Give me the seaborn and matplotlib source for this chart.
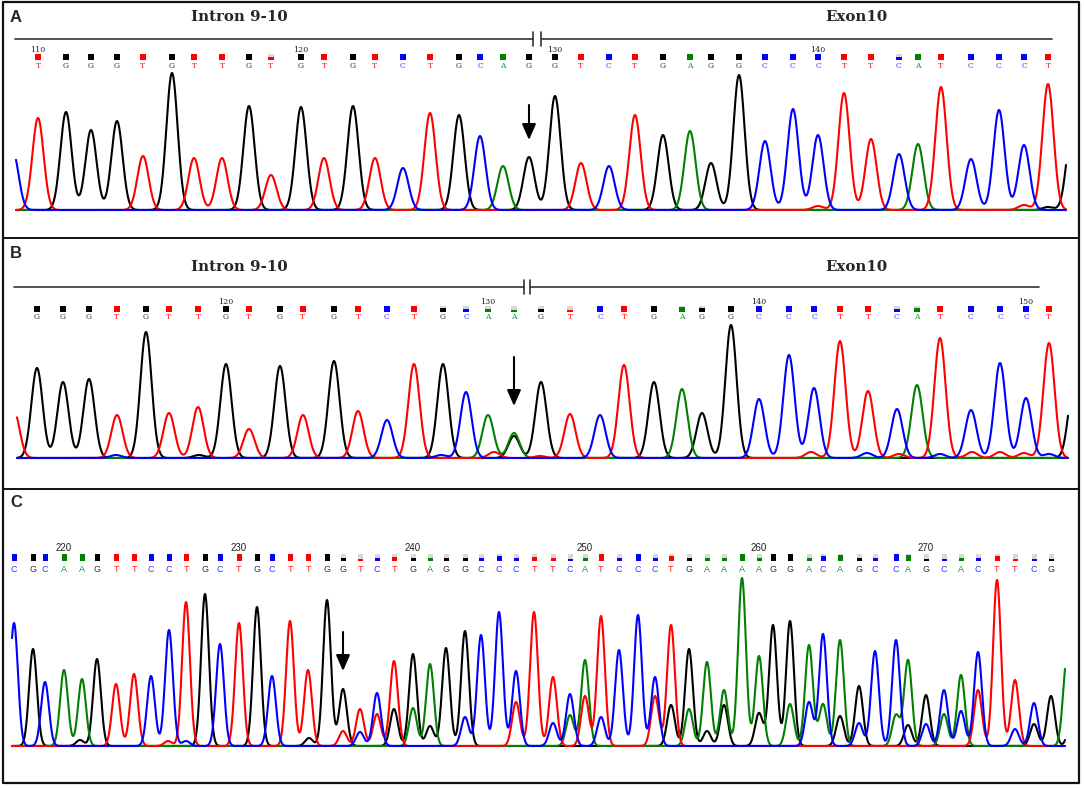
import numpy as np
import pandas as pd
import matplotlib
matplotlib.use("Agg")
import matplotlib.pyplot as plt
import seaborn as sns

# --------------------------------------------
# Sanger traces: panel A, B, C
# --------------------------------------------

# Panel A
seq_a = list("TGGGTGTTGTGTGTCTGCAGGTCTGAGGCCCTTCATCCCT")
scan_a = [38, 66, 91, 117, 143, 172, 194, 222, 249, 271, 301, 324, 353, 375, 403, 430, 459, 480, 503, 529,
          555, 581, 609, 635, 663, 690, 711, 739, 765, 793, 818, 844, 871, 899, 918, 941, 971, 999, 1024, 1048]
height_a = [92, 98, 80, 89, 54, 137, 52, 52, 104, 35, 103, 52, 104, 52, 42, 97, 95, 74, 44, 53,
            114, 47, 44, 95, 75, 79, 47, 135, 69, 101, 75, 117, 71, 56, 66, 123, 51, 100, 65, 126]
qual_a = [1] * 9 + [0.55] + [1] * 23 + [0.5] + [1] * 6
tick_idx_a = [0, 10, 20, 30]
tick_lab_a = ["110", "120", "130", "140"]
extra_scan_a = [13, 1072, 818, 1024, 1048]
extra_base_a = ["C", "G", "T", "T", "G"]
extra_height_a = [58, 80, 4, 5, 3]
arrow_idx_a = 19

# Panel B
seq_b = list("GGGTGTTGTGTGTCTGCAAGTCTGAGGCCCTTCATCCCT")
scan_b = [37, 63, 89, 117, 146, 169, 198, 226, 249, 280, 303, 334, 358, 387, 414, 443, 466, 488, 514, 541,
          570, 600, 624, 654, 682, 702, 731, 759, 789, 814, 840, 868, 897, 917, 940, 971, 1000, 1026, 1049]
height_b = [90, 76, 79, 43, 126, 45, 51, 94, 29, 92, 43, 97, 47, 38, 94, 94, 66, 43, 25, 76,
            44, 43, 93, 76, 69, 45, 133, 59, 103, 70, 117, 67, 49, 73, 120, 48, 95, 60, 115]
qual_b = [1] * 15 + [0.6, 0.5, 0.5, 0.3, 0.5, 0.3] + [1] * 3 + [0.8, 0.6] + [1] * 6 + [0.5, 0.7] + [1] * 5
tick_idx_b = [7, 17, 27, 37]
tick_lab_b = ["120", "130", "140", "150"]
extra_scan_b = [14, 1074, 514, 494, 199, 116, 441, 540, 811, 867, 899, 972, 1000, 1024, 940, 1049]
extra_base_b = ["T", "G", "G", "T", "G", "C", "C", "T", "T", "C", "T", "T", "T", "T", "C", "C"]
extra_height_b = [47, 75, 22, 6, 3, 3, 3, 2, 6, 5, 4, 6, 6, 5, 4, 4]
arrow_idx_b = 18

# Panel C
seq_c = list("CGCAAGTTCCTGCTGCTTGGTCTGAGGCCCTTCATCCCTGAAAAGGACAGCCAGCACTTCG")
scan_c = [14, 33, 45, 64, 82, 97, 116, 134, 151, 169, 186, 205, 220, 239, 257, 272, 290, 308, 327, 343,
          360, 377, 394, 413, 430, 446, 465, 481, 499, 516, 534, 553, 570, 585, 601, 619, 638, 655, 671, 689,
          707, 724, 742, 759, 773, 790, 809, 823, 840, 859, 875, 896, 908, 926, 944, 961, 978, 997, 1015, 1034,
          1051]
height_c = [123, 97, 64, 76, 67, 87, 62, 72, 70, 116, 144, 152, 102, 123, 139, 70, 125, 76, 146, 57,
            37, 53, 85, 92, 82, 98, 115, 111, 134, 75, 134, 69, 52, 86, 130, 96, 131, 69, 121, 97,
            84, 56, 168, 90, 121, 125, 101, 112, 106, 60, 95, 106, 86, 51, 56, 71, 94, 166, 66, 43,
            50]
qual_c = [1] * 19 + [0.35, 0.15, 0.3, 0.45, 0.35, 0.35, 0.35, 0.35, 0.35, 0.6, 0.3,
                     0.5, 0.3, 0.15, 0.35, 1, 0.35, 1, 0.35, 0.7, 0.35,
                     0.35, 0.35, 1, 0.35, 1, 1, 0.35, 0.7, 0.8, 0.35,
                     0.4, 1, 0.8, 0.15, 0.15, 0.35, 0.35, 0.6, 0.2, 0.15, 0.15]
tick_idx_c = [3, 13, 23, 33, 43, 53]
tick_lab_c = ["220", "230", "240", "250", "260", "270"]
extra_scan_c = [343, 360, 377, 394, 413, 430, 465, 516, 553, 570, 585, 601, 655, 671, 689, 707, 724, 759,
                790, 809, 823, 840, 859, 896, 908, 926, 944, 961, 978, 1015, 1034, 1067, 1072,
                80, 309, 168, 186]
extra_base_c = ["T", "C", "T", "G", "A", "G", "C", "T", "C", "A", "T", "C", "T", "G", "A", "G", "G", "G",
                "A", "C", "A", "G", "C", "A", "G", "C", "A", "C", "T", "C", "G", "A", "G",
                "G", "G", "T", "C"]
extra_height_c = [15, 14, 32, 37, 38, 20, 29, 44, 23, 31, 50, 29, 50, 41, 37, 15, 41, 33,
                  42, 44, 42, 30, 23, 31, 21, 22, 32, 35, 56, 17, 22, 88, 30,
                  6, 8, 5, 5]
arrow_idx_c = 19

base_colors = {"G": "#000000", "A": "#008000", "T": "#ff0000", "C": "#0000ff"}
letter_colors = {"G": "#333333", "A": "#1a8a3a", "T": "#ff2020", "C": "#3333ff"}

W, H = 1084, 788


def trace_frame(scan, bases, heights, ex_scan, ex_base, ex_height, x0, x1, sigma):
    x = np.arange(x0, x1 + 0.25, 0.25)
    all_scan = list(scan) + list(ex_scan)
    all_base = list(bases) + list(ex_base)
    all_height = list(heights) + list(ex_height)
    frames = []
    for ch in "GATC":
        y = np.zeros_like(x)
        for s, b, h in zip(all_scan, all_base, all_height):
            if b == ch:
                y += h * np.exp(-(x - s) ** 2 / (2 * sigma ** 2))
        frames.append(pd.DataFrame({"scan": x, "signal": y, "channel": ch}))
    return pd.concat(frames, ignore_index=True)


sns.set_theme(style="white")
plt.rcParams["font.family"] = ["DejaVu Sans"]

fig = plt.figure(figsize=(W / 100, H / 100), dpi=100)

# frame around the three panels
bg = fig.add_axes([0, 0, 1, 1], zorder=-1)
bg.set_xlim(0, W)
bg.set_ylim(H, 0)
bg.axis("off")
bg.plot([3, 1079, 1079, 3, 3], [2, 2, 783, 783, 2], color="#111111", lw=1.6)
bg.plot([3, 1079], [238, 238], color="#111111", lw=1.4)
bg.plot([3, 1079], [489, 489], color="#111111", lw=1.4)

panels = [
    dict(label="A", top=2, bottom=238, base=210, seq=seq_a, scan=scan_a, height=height_a, qual=qual_a,
         tick_idx=tick_idx_a, tick_lab=tick_lab_a, ex=(extra_scan_a, extra_base_a, extra_height_a),
         arrow=arrow_idx_a, x0=16, x1=1066, sigma=5.6, label_y=17, title_y=17, line_y=39,
         seg=[(15, 533), (542, 1052)], brk=(533, 541), num_y=50, sq_y=57, let_y=66,
         arrow_y=(105, 140), small=True),
    dict(label="B", top=238, bottom=489, base=458, seq=seq_b, scan=scan_b, height=height_b, qual=qual_b,
         tick_idx=tick_idx_b, tick_lab=tick_lab_b, ex=(extra_scan_b, extra_base_b, extra_height_b),
         arrow=arrow_idx_b, x0=17, x1=1068, sigma=5.6, label_y=253, title_y=267, line_y=287,
         seg=[(14, 524), (530, 1039)], brk=(524, 530), num_y=302, sq_y=309, let_y=317,
         arrow_y=(357, 406), small=True),
    dict(label="C", top=489, bottom=783, base=746, seq=seq_c, scan=scan_c, height=height_c, qual=qual_c,
         tick_idx=tick_idx_c, tick_lab=tick_lab_c, ex=(extra_scan_c, extra_base_c, extra_height_c),
         arrow=arrow_idx_c, x0=12, x1=1065, sigma=3.9, label_y=503, title_y=None, line_y=None,
         seg=[], brk=None, num_y=548, sq_y=557, let_y=569,
         arrow_y=(632, 671), small=False),
]

for p in panels:
    base = p["base"]
    ax = fig.add_axes([0, 1 - p["bottom"] / H, 1, (p["bottom"] - p["top"]) / H])

    df = trace_frame(p["scan"], p["seq"], p["height"], *p["ex"], p["x0"], p["x1"], p["sigma"])
    sns.lineplot(data=df, x="scan", y="signal", hue="channel", hue_order=["G", "A", "T", "C"],
                 palette=base_colors, estimator=None, sort=False, legend=False, lw=1.5, ax=ax)
    ax.set_xlim(0, W)
    ax.set_ylim(base - p["bottom"], base - p["top"])
    ax.axis("off")

    # panel letter
    ax.text(16, base - p["label_y"], p["label"], ha="center", va="center", fontsize=12,
            fontweight="bold", family="Liberation Sans")

    # intron / exon header
    if p["title_y"] is not None:
        ax.text(239, base - p["title_y"], "Intron 9-10", ha="center", va="center", fontsize=10.8,
                fontweight="bold", family="DejaVu Serif")
        ax.text(856, base - p["title_y"], "Exon10", ha="center", va="center", fontsize=10.8,
                fontweight="bold", family="DejaVu Serif")
        ly = base - p["line_y"]
        for a, b in p["seg"]:
            ax.plot([a, b], [ly, ly], color="#333333", lw=1.2)
        for bx in p["brk"]:
            ax.plot([bx, bx], [ly - 7, ly + 7], color="#333333", lw=1.2)

    # base-call boxes
    sq_h = 6 if p["small"] else 7
    sq_w = 6 if p["small"] else 5
    sq_bottom = base - p["sq_y"] - sq_h / 2
    xs = np.array(p["scan"])
    q = np.array(p["qual"])
    cols = [base_colors[b] for b in p["seq"]]
    low = q < 1
    ax.bar(xs[low], sq_h, width=sq_w, bottom=sq_bottom, color="#d8d8d8", linewidth=0)
    ax.bar(xs, sq_h * q, width=sq_w, bottom=sq_bottom, color=cols, linewidth=0)

    # base letters
    for x, b in zip(p["scan"], p["seq"]):
        if p["small"]:
            ax.text(x, base - p["let_y"], b, ha="center", va="center", fontsize=5.5,
                    color=letter_colors[b], family="DejaVu Serif")
        else:
            ax.text(x, base - p["let_y"], b, ha="center", va="center", fontsize=6.5,
                    color=letter_colors[b], family="Liberation Sans")

    # position numbers
    for i, t in zip(p["tick_idx"], p["tick_lab"]):
        if p["small"]:
            ax.text(p["scan"][i], base - p["num_y"], t, ha="center", va="center", fontsize=5.8,
                    color="#222222", family="DejaVu Serif")
        else:
            ax.text(p["scan"][i], base - p["num_y"], t, ha="center", va="center", fontsize=7,
                    color="#222222", family="Liberation Sans")

    # arrow at the variant
    ax_x = p["scan"][p["arrow"]]
    y0, y1 = p["arrow_y"]
    ax.annotate("", xy=(ax_x, base - y1), xytext=(ax_x, base - y0),
                arrowprops=dict(arrowstyle="-|>,head_length=0.8,head_width=0.35", lw=1.5,
                                color="black", shrinkA=0, shrinkB=0))

plt.savefig("out.png", dpi=100)
